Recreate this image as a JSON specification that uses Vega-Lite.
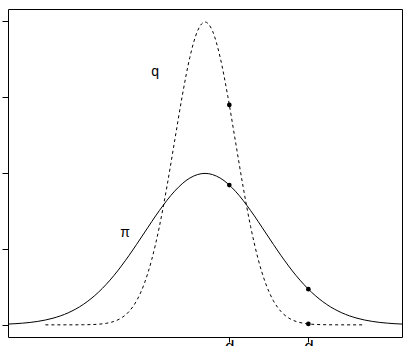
{
  "$schema": "https://vega.github.io/schema/vega-lite/v6.json",
  "width": 394,
  "height": 328,
  "autosize": {"type": "none"},
  "padding": {"left": 8, "top": 9, "right": 3, "bottom": 9},
  "background": "white",
  "config": {
    "view": {"stroke": "black", "strokeWidth": 1},
    "font": "Liberation Sans"
  },
  "datasets": {
    "pi": [
      {"x": -6.5, "y": 0.001015}, {"x": -6, "y": 0.002216}, {"x": -5.5, "y": 0.00455}, {"x": -5, "y": 0.00876},
      {"x": -4.5, "y": 0.01587}, {"x": -4, "y": 0.027}, {"x": -3.5, "y": 0.04314}, {"x": -3, "y": 0.06476},
      {"x": -2.5, "y": 0.09132}, {"x": -2, "y": 0.12099}, {"x": -1.5, "y": 0.15057}, {"x": -1, "y": 0.17603},
      {"x": -0.5, "y": 0.19333}, {"x": 0, "y": 0.19947}, {"x": 0.5, "y": 0.19333}, {"x": 1, "y": 0.17603},
      {"x": 1.5, "y": 0.15057}, {"x": 2, "y": 0.12099}, {"x": 2.5, "y": 0.09132}, {"x": 3, "y": 0.06476},
      {"x": 3.5, "y": 0.04314}, {"x": 4, "y": 0.027}, {"x": 4.5, "y": 0.01587}, {"x": 5, "y": 0.00876},
      {"x": 5.5, "y": 0.00455}, {"x": 6, "y": 0.002216}, {"x": 6.5, "y": 0.001015}
    ],
    "q": [
      {"x": -5.25, "y": 0.0}, {"x": -5, "y": 0.0000015}, {"x": -4.5, "y": 0.000016}, {"x": -4, "y": 0.000134},
      {"x": -3.75, "y": 0.000353}, {"x": -3.5, "y": 0.000873}, {"x": -3.25, "y": 0.002029}, {"x": -3, "y": 0.004432},
      {"x": -2.75, "y": 0.00909}, {"x": -2.5, "y": 0.01753}, {"x": -2.25, "y": 0.03174}, {"x": -2, "y": 0.05399},
      {"x": -1.75, "y": 0.08628}, {"x": -1.5, "y": 0.12952}, {"x": -1.25, "y": 0.18265}, {"x": -1, "y": 0.24197},
      {"x": -0.75, "y": 0.30114}, {"x": -0.5, "y": 0.35207}, {"x": -0.25, "y": 0.38667}, {"x": 0, "y": 0.39894},
      {"x": 0.25, "y": 0.38667}, {"x": 0.5, "y": 0.35207}, {"x": 0.75, "y": 0.30114}, {"x": 1, "y": 0.24197},
      {"x": 1.25, "y": 0.18265}, {"x": 1.5, "y": 0.12952}, {"x": 1.75, "y": 0.08628}, {"x": 2, "y": 0.05399},
      {"x": 2.25, "y": 0.03174}, {"x": 2.5, "y": 0.01753}, {"x": 2.75, "y": 0.00909}, {"x": 3, "y": 0.004432},
      {"x": 3.25, "y": 0.002029}, {"x": 3.5, "y": 0.000873}, {"x": 3.75, "y": 0.000353}, {"x": 4, "y": 0.000134},
      {"x": 4.5, "y": 0.000016}, {"x": 5, "y": 0.0000015}, {"x": 5.25, "y": 0.0}
    ],
    "pts": [
      {"x": 0.8, "y": 0.18413}, {"x": 0.8, "y": 0.28969},
      {"x": 3.4, "y": 0.04702}, {"x": 3.4, "y": 0.00123}
    ],
    "labels": [
      {"x": -1.64, "y": 0.333, "label": "q"},
      {"x": -2.63, "y": 0.121, "label": "π"}
    ]
  },
  "layer": [
    {
      "data": {"name": "pi"},
      "mark": {"type": "line", "color": "black", "strokeWidth": 1, "interpolate": "monotone", "clip": true},
      "encoding": {
        "x": {
          "field": "x", "type": "quantitative",
          "scale": {"domain": [-6.48, 6.48], "nice": false, "zero": false},
          "axis": {
            "values": [0.8, 3.4], "labelExpr": "'d'", "title": null, "grid": false, "domain": false,
            "tickSize": 5, "tickColor": "black", "labelColor": "black", "labelFontSize": 17,
            "labelFont": "Liberation Sans", "labelPadding": -4, "labelBaseline": "top", "labelDx": -2
          }
        },
        "y": {
          "field": "y", "type": "quantitative",
          "scale": {"domain": [-0.016, 0.416], "nice": false, "zero": false},
          "axis": {
            "values": [0, 0.1, 0.2, 0.3, 0.4], "labels": false, "title": null, "grid": false, "domain": false,
            "tickSize": 6, "tickColor": "black"
          }
        }
      }
    },
    {
      "data": {"name": "q"},
      "mark": {"type": "line", "color": "black", "strokeWidth": 1, "strokeDash": [3, 3], "interpolate": "monotone", "clip": true},
      "encoding": {
        "x": {"field": "x", "type": "quantitative"},
        "y": {"field": "y", "type": "quantitative"}
      }
    },
    {
      "data": {"name": "pts"},
      "mark": {"type": "point", "shape": "circle", "filled": true, "color": "black", "size": 22, "opacity": 1},
      "encoding": {
        "x": {"field": "x", "type": "quantitative"},
        "y": {"field": "y", "type": "quantitative"}
      }
    },
    {
      "data": {"name": "labels"},
      "mark": {"type": "text", "fontSize": 14, "fill": "black", "color": "black", "font": "Liberation Sans"},
      "encoding": {
        "x": {"field": "x", "type": "quantitative"},
        "y": {"field": "y", "type": "quantitative"},
        "text": {"field": "label"}
      }
    }
  ]
}
